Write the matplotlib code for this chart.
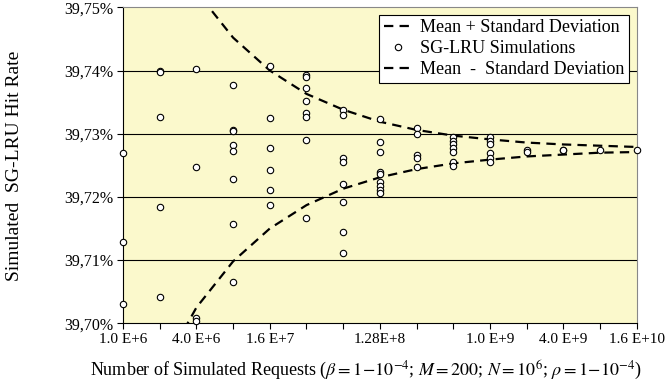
import matplotlib

matplotlib.use("Agg")
import matplotlib.pyplot as plt
import numpy as np

plt.rcParams.update({"font.family": "Liberation Serif", "mathtext.fontset": "stix"})

# category positions (requests double every column, 1e6 .. 1.6384e10)
TICK_LABELS = ["1.0 E+6", "", "4.0 E+6", "", "1.6 E+7", "", "", "1.28E+8",
               "", "", "1.0 E+9", "", "4.0 E+9", "", "1.6 E+10"]

# simulated hit rates [%] per column
SIMS = [
    [39.7269, 39.7128, 39.7031],
    [39.7400, 39.7398, 39.7326, 39.7184, 39.7041],
    [39.7403, 39.7248, 39.7008, 39.7003],
    [39.7377, 39.7306, 39.7305, 39.7282, 39.7273, 39.7229, 39.7157, 39.7066],
    [39.7407, 39.7325, 39.7277, 39.7242, 39.7211, 39.7187],
    [39.7393, 39.7389, 39.7372, 39.7351, 39.7333, 39.7327, 39.7290, 39.7167],
    [39.7337, 39.7330, 39.7261, 39.7255, 39.7220, 39.7192, 39.7145, 39.7111],
    [39.7323, 39.7287, 39.7271, 39.7240, 39.7237, 39.7224, 39.7217, 39.7211, 39.7206],
    [39.7309, 39.7299, 39.7266, 39.7262, 39.7248],
    [39.7295, 39.7288, 39.7283, 39.7278, 39.7271, 39.7256, 39.7249],
    [39.7295, 39.7289, 39.7284, 39.7269, 39.7262, 39.7255],
    [39.7275, 39.7271],
    [39.7275, 39.7274],
    [39.7274],
    [39.7275],
]

UPPER = [39.7775, 39.7629, 39.7525, 39.7452, 39.7400, 39.7363, 39.7338, 39.7319,
         39.7306, 39.7297, 39.7291, 39.7286, 39.7283, 39.7281, 39.7279]
LOWER = [39.6775, 39.6921, 39.7025, 39.7098, 39.7150, 39.7187, 39.7213, 39.7231,
         39.7244, 39.7253, 39.7259, 39.7264, 39.7267, 39.7270, 39.7271]

YTICKS = [39.70, 39.71, 39.72, 39.73, 39.74, 39.75]

fig = plt.figure(figsize=(6.69, 3.84), dpi=100)
ax = fig.add_axes([0.1839, 0.158, 0.9517 - 0.1839, 0.981 - 0.158])
ax.set_facecolor("#fbf9cc")

cols = np.arange(len(SIMS))
dash = dict(color="black", lw=1.6, ls=(0, (4.2, 2.8)), zorder=3)
ax.plot(cols, UPPER, label="Mean + Standard Deviation", **dash)
xs = np.concatenate([[c] * len(v) for c, v in zip(cols, SIMS)])
ys = np.concatenate(SIMS)
ax.plot(xs, ys, "o", ms=4.6, mfc="white", mec="black", mew=0.8, ls="none",
        label="SG-LRU Simulations", zorder=4, clip_on=False)
ax.plot(cols, LOWER, label="Mean  -  Standard Deviation", **dash)

ax.set_xlim(0, 14)
ax.set_ylim(39.70, 39.75)
ax.set_xticks(cols)
ax.set_xticklabels(TICK_LABELS, fontsize=11)
ax.set_yticks(YTICKS)
ax.set_yticklabels([f"{v:.2f}%".replace(".", ",") for v in YTICKS], fontsize=11.5)
ax.tick_params(direction="out", length=4, width=0.8, color="black", pad=3)
for y in YTICKS[1:-1]:
    ax.axhline(y, color="black", lw=0.8, zorder=1)

for s in ("top", "right"):
    ax.spines[s].set_color("#888888")
for s in ("left", "bottom"):
    ax.spines[s].set_color("black")

leg = ax.legend(loc="upper right", bbox_to_anchor=(0.985, 0.977), fontsize=13,
                frameon=True, fancybox=False, framealpha=1, edgecolor="black",
                handlelength=1.5, handletextpad=0.5, labelspacing=0.22,
                borderpad=0.25, borderaxespad=0)
leg.get_frame().set_linewidth(0.8)

fig.text(366 / 669, 1 - 370 / 384,
         r"Number of Simulated Requests ($\beta = 1\!-\!10^{-4}$; $M = 200$; "
         r"$N = 10^{6}$; $\rho = 1\!-\!10^{-4}$)",
         ha="center", va="center", fontsize=13)
fig.text(15 / 669, 1 - 166 / 384, "Simulated  SG-LRU Hit Rate", rotation=90,
         ha="center", va="center", fontsize=14)

fig.savefig("out.png", dpi=100)
